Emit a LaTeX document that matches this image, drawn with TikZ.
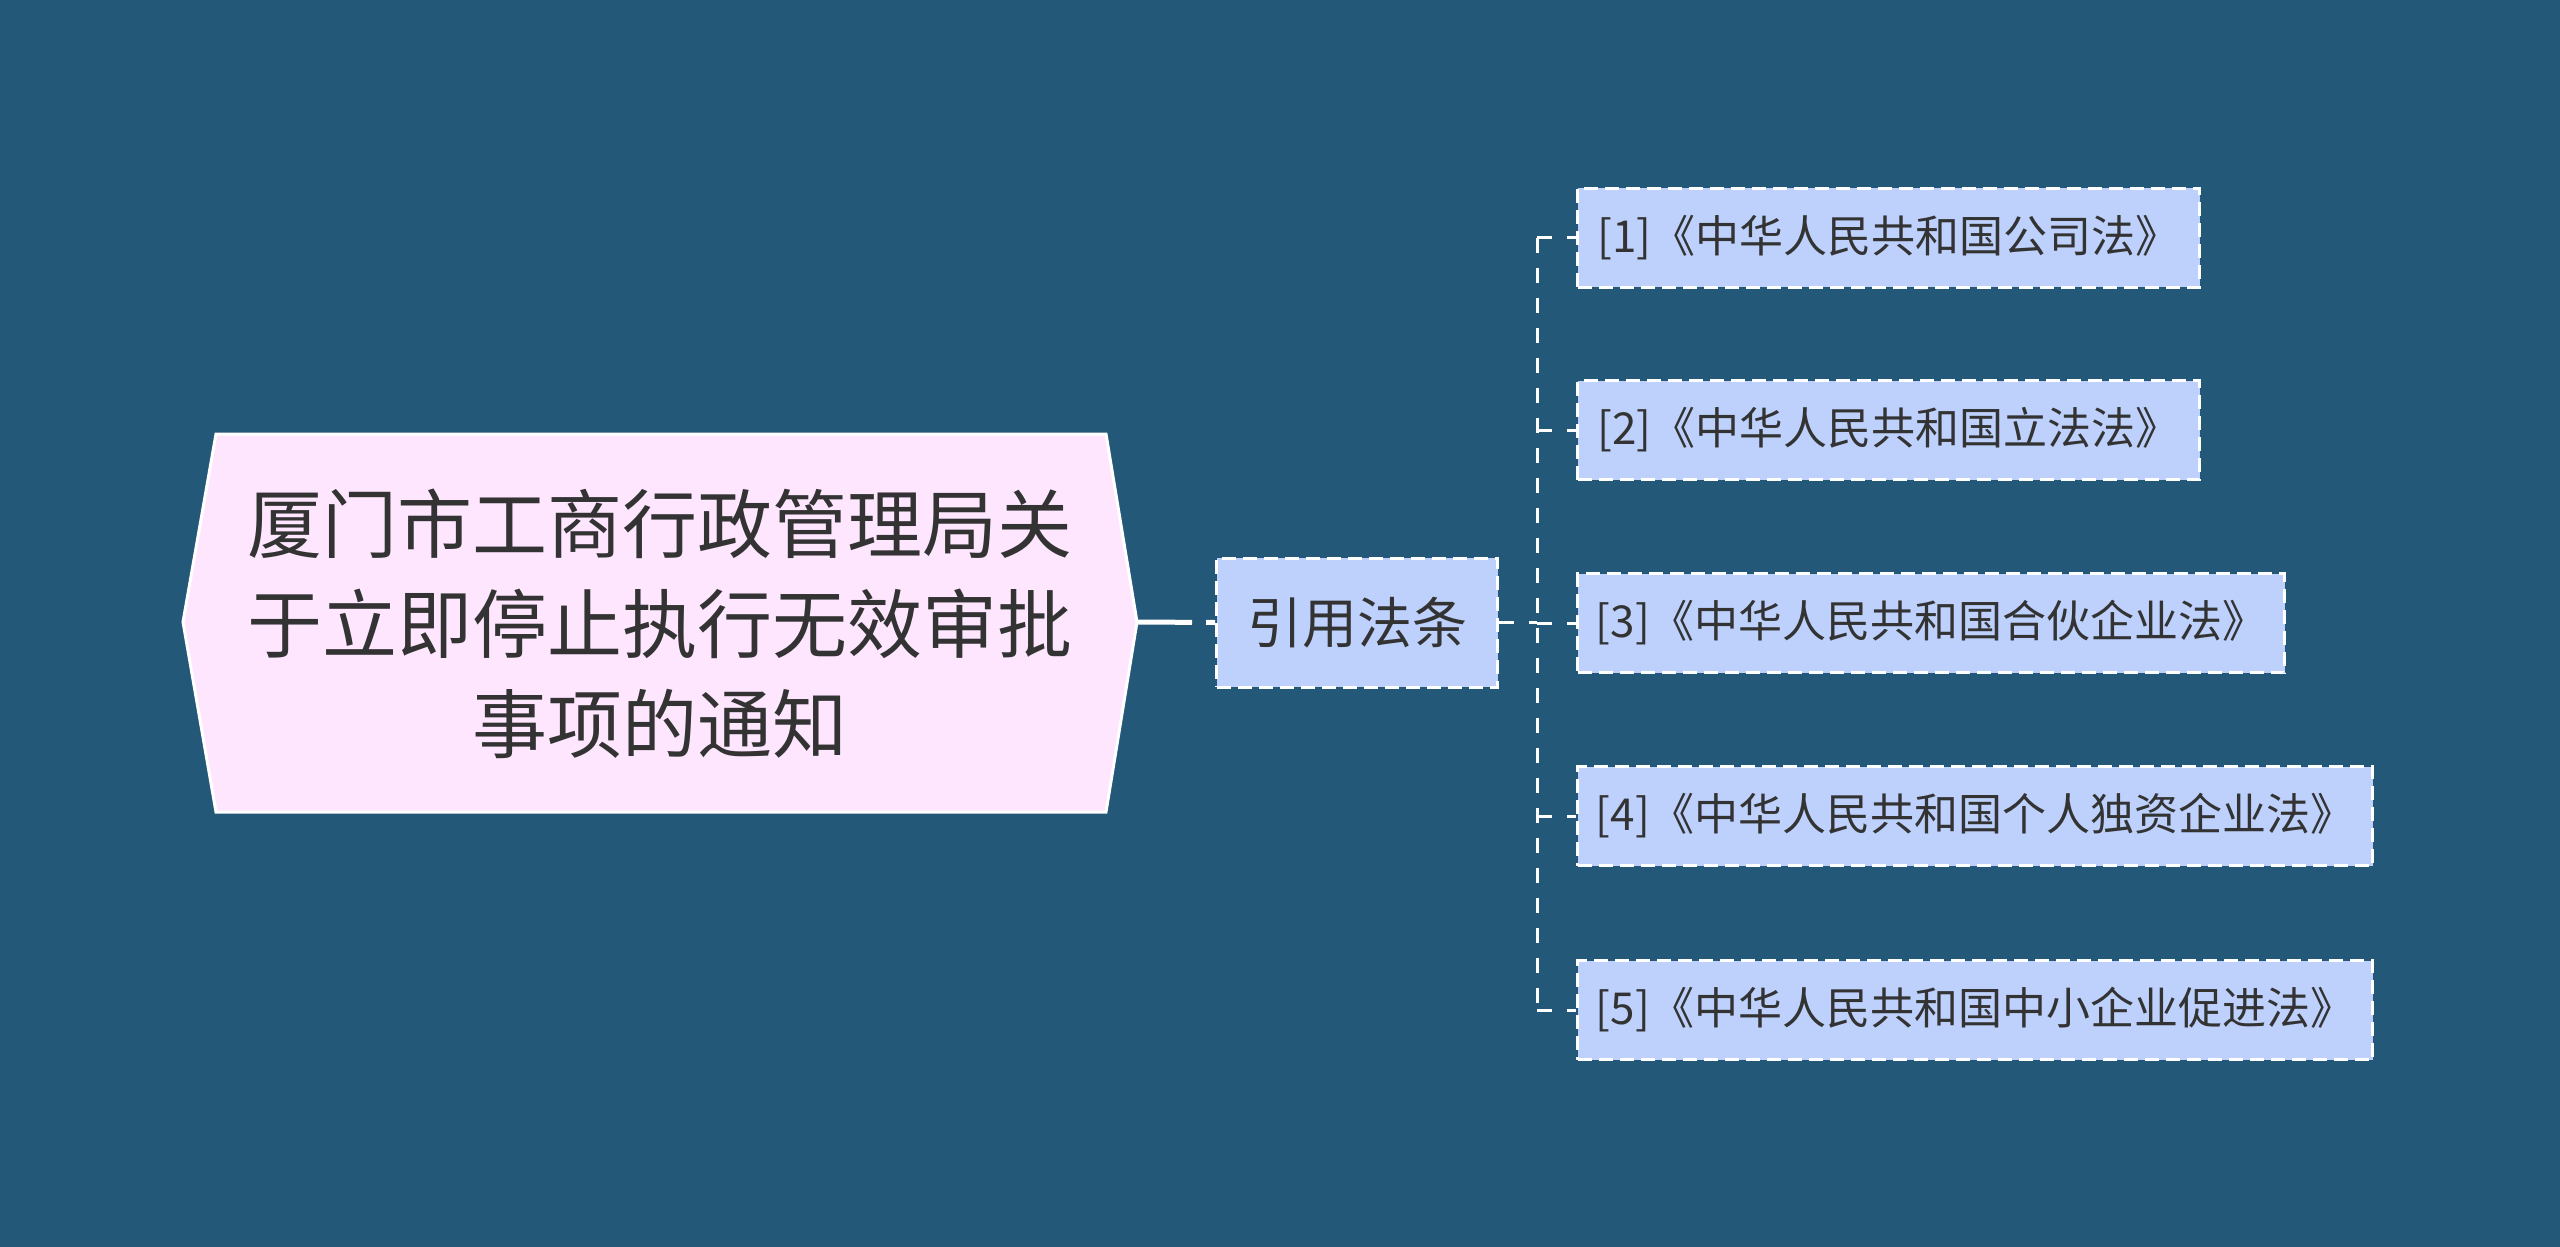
\documentclass[tikz,border=0pt]{standalone}
\usepackage{fontspec}
\newfontfamily\cjk{Noto Sans CJK SC}
\definecolor{bg}{HTML}{245879}
\definecolor{rootfill}{HTML}{FEE6FE}
\definecolor{leaffill}{HTML}{BDD1FC}
\definecolor{ink}{HTML}{333333}
\tikzset{
  rootshape/.style={fill=rootfill, draw=white, line width=3pt, line join=miter},
  roottext/.style={text=ink, font=\cjk\fontsize{75}{100}\selectfont, align=center, inner sep=0pt},
  dashbox/.style={draw=white, line width=3pt, dash pattern=on 14pt off 7pt, fill=leaffill,
    inner sep=0pt, anchor=west, text=ink},
  leafbox/.style={dashbox, minimum height=99pt, font=\cjk\fontsize{44}{52}\selectfont},
  citebox/.style={dashbox, minimum height=129pt, minimum width=281pt, font=\cjk\fontsize{55}{66}\selectfont},
  link/.style={draw=white, line width=3pt, dash pattern=on 15pt off 15pt},
  mainlink/.style={draw=white, line width=5pt, dash pattern=on 55pt off 14pt},
}
\begin{document}
\begin{tikzpicture}[x=1pt,y=-1pt]
\useasboundingbox (0,0) rectangle (2560,1247);
\fill[bg] (0,0) rectangle (2560,1247);
% root
\filldraw[rootshape] (183,622) -- (216,434) -- (1106,434) -- (1137,622) -- (1106,812) -- (216,812) -- cycle;
\node[roottext] (root) at (660,624) {厦门市工商行政管理局关\\于立即停止执行无效审批\\事项的通知};
\coordinate (rootE) at (1137,622);
% middle
\node[citebox] (cite) at (1215,622.5) {引用法条};
% leaves
\node[leafbox, minimum width=622pt] (c1) at (1576,237.5) {[1]《中华人民共和国公司法》};
\node[leafbox, minimum width=622pt] (c2) at (1576,430) {[2]《中华人民共和国立法法》};
\node[leafbox, minimum width=707pt] (c3) at (1576,623) {[3]《中华人民共和国合伙企业法》};
\node[leafbox, minimum width=795pt] (c4) at (1576,816) {[4]《中华人民共和国个人独资企业法》};
\node[leafbox, minimum width=795pt] (c5) at (1576,1010) {[5]《中华人民共和国中小企业促进法》};
% connectors
\coordinate (spine) at (1537,622.5);
\draw[mainlink] (rootE) -- (cite.west);
\draw[link] (cite.east) -- (spine);
\draw[link] (c1.west -| spine) -- (c5.west -| spine);
\foreach \c in {c1,c2,c3,c4,c5}{
  \draw[link] (\c.west -| spine) -- (\c.west);
}
\end{tikzpicture}
\end{document}
